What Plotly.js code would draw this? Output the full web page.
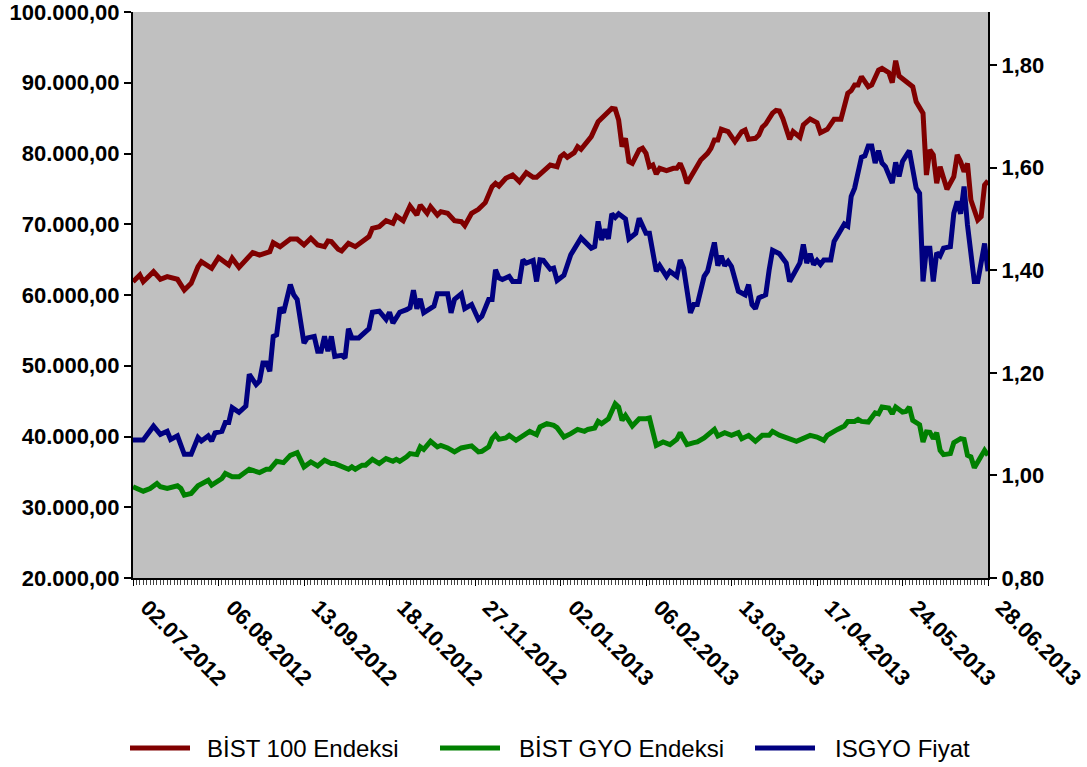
<!DOCTYPE html>
<html>
<head>
<meta charset="utf-8">
<script src="https://cdn.plot.ly/plotly-3.0.1.min.js"></script>
<style>html,body{margin:0;padding:0;background:#fff;}#chart{width:1087px;height:767px;}</style>
</head>
<body>
<div id="chart"></div>
<script>
// Series names
const seriesNames = ["BİST 100 Endeksi", "BİST GYO Endeksi", "ISGYO Fiyat"];

// X-axis tick labels (trading-session index -> date label)
const tickDays = [0, 25, 50, 75, 100, 125, 150, 175, 200, 225, 250];
const tickLabels = ["02.07.2012", "06.08.2012", "13.09.2012", "18.10.2012", "27.11.2012",
  "02.01.2013", "06.02.2013", "13.03.2013", "17.04.2013", "24.05.2013", "28.06.2013"];

// BİST 100 Endeksi (left axis)
const bist100Day = [0,2,3,6,8,10,13,15,17,19,20,23,25,28,29,31,35,37,40,41,43,46,48,50,52,54,56,57,58,60,61,63,65,67,69,70,72,74,76,77,79,81,83,84,86,87,89,90,92,94,96,97,99,101,103,105,106,107,109,111,113,115,117,118,120,122,124,125,126,127,129,130,131,133,134,136,137,138,140,141,142,143,144,145,146,148,149,150,151,152,153,154,156,158,159,160,161,162,164,166,168,169,170,171,172,174,176,178,179,180,182,183,184,185,187,188,189,190,192,193,195,196,198,200,201,203,205,207,209,210,211,212,213,215,216,218,219,221,222,223,224,226,228,229,230,231,232,233,234,235,236,238,240,241,242,243,244,245,247,248,249,250];
const bist100Value = [61880,62830,61880,63300,62220,62600,62220,60700,61650,64000,64700,63770,65300,64240,65200,63900,66000,65650,66120,67390,66830,67910,67910,67070,68010,67070,66830,67630,67540,66460,66220,67310,66830,67540,68250,69430,69660,70500,70130,71170,70500,72580,71310,72720,71550,72480,71310,71780,71550,70500,70360,69800,71550,72110,73050,75320,75790,75410,76490,76960,76020,77290,76630,76630,77570,78370,78130,79550,79930,79460,80120,80970,80600,81670,82380,84500,84970,85340,86380,86290,84730,80970,82150,78840,78600,80500,80740,80030,78130,78370,77100,77900,77570,77900,77900,78600,77430,75790,77430,79080,80030,80740,81920,81920,83420,83090,81670,83090,83320,82010,82150,82620,83700,84170,85700,86100,86000,84970,82010,83090,82290,84030,84880,84360,82940,83420,84830,84830,88510,88880,89680,89680,90860,89440,89680,91800,92040,91420,90010,93120,90950,90290,89440,87320,86610,85680,76960,80500,79790,75790,78130,74950,76730,79790,78840,77430,78600,73430,70600,71070,75550,76140];

// BİST GYO Endeksi (left axis)
const gyoDay = [0,1,3,5,7,8,10,13,14,15,17,19,21,22,23,25,26,27,29,31,34,37,39,40,42,44,46,48,50,52,54,56,58,59,61,63,64,65,67,68,70,72,74,76,77,78,80,81,83,84,85,87,89,90,92,94,96,98,99,101,102,104,105,106,107,109,110,112,114,116,118,119,121,123,124,126,128,130,132,133,135,136,137,138,139,141,142,143,144,146,148,150,151,153,155,157,159,160,161,162,164,165,167,168,170,171,173,175,177,178,180,182,184,186,187,189,192,194,198,200,202,203,206,208,209,211,212,213,215,217,218,219,221,222,223,225,226,227,228,230,231,232,233,234,235,236,237,239,240,242,243,244,245,246,247,249,250];
const gyoValue = [32900,32750,32270,32650,33360,32900,32650,33030,32650,31710,31950,33030,33600,33820,33120,33820,34060,34770,34300,34300,35370,34910,35370,35370,36500,36310,37340,37720,35710,36410,35850,36640,36170,36170,35710,35370,35710,35370,35940,35940,36780,36170,36880,36500,36780,36500,37120,37580,37440,38530,38190,39320,38530,38750,38380,37820,38380,38530,38670,37820,37910,38530,39690,40260,39600,39790,40160,39460,40160,40720,40260,41350,41810,41570,41250,39930,40400,41000,40720,41000,41200,42130,41810,42270,42510,44620,44160,42270,42980,41480,42510,42510,42610,38750,39230,38850,39600,40540,39690,38850,39130,39230,39790,40160,41000,40070,40540,40160,40540,39690,40160,39320,40160,40160,40720,40200,39690,39320,40160,39930,39460,40160,41000,41480,42130,42130,42410,42130,42040,43350,43210,44160,44020,43210,44160,43460,43540,44160,42270,41670,39230,40640,40600,39690,40540,38050,37440,37580,39130,39690,39600,37340,37120,35570,36410,38050,37340];

// ISGYO Fiyat (right axis)
const isgyoDay = [0,3,6,8,10,11,13,15,17,19,20,22,23,24,26,27,28,29,31,33,34,36,37,38,39,40,41,42,43,44,46,47,48,50,51,53,54,55,56,57,58,59,61,62,63,64,66,69,70,72,74,75,76,78,80,81,82,83,84,85,88,89,92,93,94,96,97,99,101,102,104,105,106,107,108,110,111,113,114,115,117,118,119,120,122,123,124,126,128,129,131,134,135,136,137,138,139,140,141,142,144,145,147,148,150,151,153,154,156,157,159,160,161,163,164,165,167,168,170,171,172,173,174,175,177,179,180,181,182,183,185,186,187,189,191,192,194,195,196,197,198,199,200,201,202,204,205,207,208,209,210,211,212,213,214,215,216,217,218,219,220,222,223,224,225,227,229,230,231,232,233,234,235,236,237,239,240,241,242,243,244,246,247,249,250];
const isgyoValue = [1.069,1.069,1.096,1.080,1.086,1.070,1.077,1.041,1.041,1.074,1.067,1.077,1.067,1.083,1.086,1.103,1.103,1.132,1.123,1.135,1.197,1.177,1.184,1.219,1.219,1.203,1.271,1.274,1.327,1.317,1.372,1.352,1.343,1.258,1.268,1.271,1.242,1.242,1.271,1.242,1.271,1.232,1.234,1.229,1.286,1.268,1.268,1.286,1.318,1.320,1.304,1.318,1.297,1.318,1.323,1.327,1.361,1.325,1.344,1.317,1.330,1.354,1.354,1.317,1.343,1.354,1.325,1.333,1.304,1.310,1.343,1.343,1.401,1.385,1.382,1.388,1.378,1.378,1.420,1.414,1.419,1.378,1.420,1.419,1.402,1.404,1.380,1.390,1.430,1.440,1.463,1.443,1.446,1.495,1.459,1.480,1.461,1.510,1.503,1.510,1.500,1.461,1.472,1.501,1.472,1.472,1.398,1.409,1.388,1.398,1.388,1.420,1.404,1.317,1.333,1.333,1.388,1.398,1.454,1.409,1.428,1.409,1.417,1.407,1.359,1.352,1.372,1.333,1.325,1.346,1.352,1.400,1.439,1.432,1.414,1.378,1.401,1.414,1.450,1.414,1.432,1.411,1.419,1.411,1.420,1.420,1.456,1.476,1.490,1.486,1.544,1.560,1.589,1.620,1.623,1.642,1.642,1.609,1.633,1.609,1.602,1.570,1.610,1.583,1.612,1.633,1.560,1.550,1.378,1.443,1.443,1.378,1.434,1.428,1.443,1.446,1.511,1.534,1.510,1.563,1.488,1.378,1.378,1.452,1.398];

const colors = ["#800000", "#008000", "#000080"];

const W = 1087, H = 767;
const M = {l: 133, r: W - 988, t: 12, b: H - 578};
const pw = W - M.l - M.r, ph = H - M.t - M.b;
const px2x = p => (p - M.l) / pw;
const py2y = p => (H - M.b - p) / ph;

const traces = [
  {x: bist100Day, y: bist100Value, name: seriesNames[0], type: 'scatter', mode: 'lines',
   line: {color: colors[0], width: 5}, yaxis: 'y', cliponaxis: true},
  {x: gyoDay, y: gyoValue, name: seriesNames[1], type: 'scatter', mode: 'lines',
   line: {color: colors[1], width: 5}, yaxis: 'y', cliponaxis: true},
  {x: isgyoDay, y: isgyoValue, name: seriesNames[2], type: 'scatter', mode: 'lines',
   line: {color: colors[2], width: 5}, yaxis: 'y2', cliponaxis: true}
];

const tickFont = {family: 'Liberation Sans, Arial, sans-serif', size: 22, color: '#000', weight: 'bold'};

// manual legend
const legendItems = [
  {lx0: 130, lx1: 190, tx: 205},
  {lx0: 440, lx1: 500, tx: 517},
  {lx0: 755, lx1: 815, tx: 833}
];
const legendY = 748;
const shapes = legendItems.map((it, i) => ({
  type: 'line', xref: 'paper', yref: 'paper',
  x0: px2x(it.lx0), x1: px2x(it.lx1), y0: py2y(legendY), y1: py2y(legendY),
  line: {color: colors[i], width: 5}
}));
const annotations = legendItems.map((it, i) => ({
  xref: 'paper', yref: 'paper', x: px2x(it.tx), y: py2y(legendY),
  xanchor: 'left', yanchor: 'middle', showarrow: false, text: seriesNames[i],
  font: {family: 'Liberation Sans, Arial, sans-serif', size: 24, color: '#000'}
}));

const layout = {
  width: W, height: H,
  margin: M,
  paper_bgcolor: '#ffffff',
  plot_bgcolor: '#c0c0c0',
  separators: ',.',
  showlegend: false,
  xaxis: {
    range: [0, 250], tickmode: 'array', tickvals: tickDays, ticktext: tickLabels,
    tickangle: 45, tickfont: tickFont, showgrid: false, zeroline: false,
    showline: true, linecolor: '#000', linewidth: 2,
    ticks: 'outside', ticklen: 6, tickcolor: '#000', tickwidth: 1,
    ticklabelshift: 14, ticklabeloverflow: 'allow',
    minor: {tickmode: 'linear', tick0: 0, dtick: 1, ticks: 'outside', ticklen: 5, tickcolor: '#444', tickwidth: 1, showgrid: false}
  },
  yaxis: {
    range: [20000, 100000], dtick: 10000, tick0: 20000, tickformat: ',.2f',
    tickfont: tickFont, showgrid: false, zeroline: false, ticklabeloverflow: 'allow',
    showline: true, linecolor: '#000', linewidth: 2,
    ticks: 'outside', ticklen: 7, tickcolor: '#000', tickwidth: 2
  },
  yaxis2: {
    overlaying: 'y', side: 'right', range: [0.8, 1.9033], tick0: 0.8, dtick: 0.2, tickformat: '.2f',
    tickfont: tickFont, showgrid: false, zeroline: false, ticklabeloverflow: 'allow',
    showline: true, linecolor: '#000', linewidth: 2,
    ticks: 'outside', ticklen: 7, tickcolor: '#000', tickwidth: 2
  },
  shapes: shapes,
  annotations: annotations
};

Plotly.newPlot('chart', traces, layout, {displayModeBar: false, staticPlot: true});
</script>
</body>
</html>
